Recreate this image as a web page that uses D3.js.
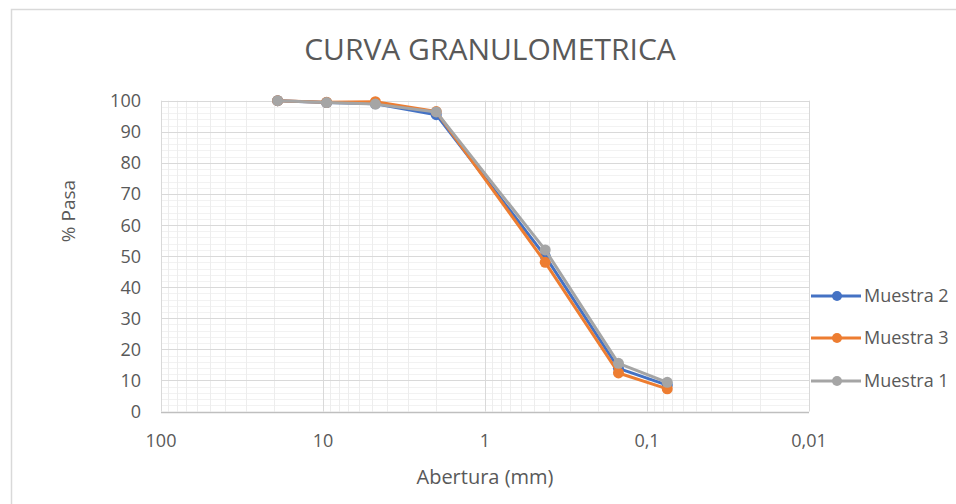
<!DOCTYPE html>
<html>
<head>
<meta charset="utf-8">
<script src="https://cdn.jsdelivr.net/npm/d3@7"></script>
<style>
  html, body { margin: 0; padding: 0; background: #fff; }
  svg { display: block; }
</style>
</head>
<body>
<svg id="chart" width="956" height="504"></svg>
<script>
// Sieve openings (mm) and percent passing for each sample
const aberturas = [19.05, 9.5, 4.75, 2.0, 0.425, 0.15, 0.075];
const muestra2 = [100, 99.4, 99.0, 95.5, 50.0, 13.9, 8.5];
const muestra3 = [100, 99.5, 99.7, 96.5, 48.0, 12.4, 7.3];
const muestra1 = [100, 99.4, 98.9, 96.4, 52.0, 15.5, 9.4];

const seriesNames = ["Muestra 2", "Muestra 3", "Muestra 1"];
const seriesColors = ["#4472C4", "#ED7D31", "#A5A5A5"];
const seriesValues = [muestra2, muestra3, muestra1];

const xTickValues = [100, 10, 1, 0.1, 0.01];
const xTickLabels = ["100", "10", "1", "0,1", "0,01"];
const yTickValues = [0, 10, 20, 30, 40, 50, 60, 70, 80, 90, 100];

const svg = d3.select("#chart");
const font = "'Open Sans', 'Noto Sans', sans-serif";
const textColor = "#595959";

// Outer chart frame
svg.append("rect")
  .attr("x", 11.5).attr("y", 9.5)
  .attr("width", 1000).attr("height", 600)
  .attr("fill", "#fff").attr("stroke", "#D9D9D9").attr("stroke-width", 1.5);

const plotLeft = 161, plotRight = 809, plotTop = 100.7, plotBottom = 411.5;

const x = d3.scaleLog().domain([100, 0.01]).range([plotLeft, plotRight]);
const y = d3.scaleLinear().domain([0, 100]).range([plotBottom, plotTop]);

const grid = svg.append("g");

// Minor horizontal grid (every 2 units)
const yMinor = d3.range(0, 101, 2).filter(v => v % 10 !== 0);
grid.selectAll(".hmin").data(yMinor).enter().append("line")
  .attr("x1", plotLeft).attr("x2", plotRight)
  .attr("y1", d => Math.round(y(d)) + 0.5).attr("y2", d => Math.round(y(d)) + 0.5)
  .attr("stroke", "#F2F2F2").attr("stroke-width", 1);

// Minor vertical grid (2..9 within each decade)
const xMinor = [];
[10, 1, 0.1, 0.01].forEach(base => {
  for (let k = 2; k <= 9; k++) xMinor.push(base * k);
});
grid.selectAll(".vmin").data(xMinor).enter().append("line")
  .attr("y1", plotTop).attr("y2", plotBottom)
  .attr("x1", d => Math.round(x(d)) + 0.5).attr("x2", d => Math.round(x(d)) + 0.5)
  .attr("stroke", "#EDEDED").attr("stroke-width", 1);

// Major horizontal grid
grid.selectAll(".hmaj").data(yTickValues.filter(v => v > 0)).enter().append("line")
  .attr("x1", plotLeft).attr("x2", plotRight)
  .attr("y1", d => Math.round(y(d)) + 0.5).attr("y2", d => Math.round(y(d)) + 0.5)
  .attr("stroke", "#D9D9D9").attr("stroke-width", 1);

// Major vertical grid
grid.selectAll(".vmaj").data(xTickValues).enter().append("line")
  .attr("y1", plotTop).attr("y2", plotBottom)
  .attr("x1", d => Math.round(x(d)) + 0.5).attr("x2", d => Math.round(x(d)) + 0.5)
  .attr("stroke", "#D9D9D9").attr("stroke-width", 1);

// Horizontal axis line
svg.append("line")
  .attr("x1", plotLeft).attr("x2", plotRight)
  .attr("y1", Math.round(plotBottom) + 0.5).attr("y2", Math.round(plotBottom) + 0.5)
  .attr("stroke", "#BFBFBF").attr("stroke-width", 1.5);

// Y tick labels
svg.append("g").selectAll("text").data(yTickValues).enter().append("text")
  .attr("x", 141).attr("y", d => y(d))
  .attr("dy", "0.36em")
  .attr("text-anchor", "end")
  .attr("font-family", font).attr("font-size", 18)
  .attr("fill", textColor)
  .text(d => d);

// X tick labels
svg.append("g").selectAll("text").data(xTickValues).enter().append("text")
  .attr("x", d => x(d)).attr("y", 447)
  .attr("text-anchor", "middle")
  .attr("font-family", font).attr("font-size", 18)
  .attr("fill", textColor)
  .text((d, i) => xTickLabels[i]);

// Title
svg.append("text")
  .attr("x", 490).attr("y", 60)
  .attr("text-anchor", "middle")
  .attr("font-family", font).attr("font-size", 30)
  .attr("fill", textColor)
  .text("CURVA GRANULOMETRICA");

// Axis titles
svg.append("text")
  .attr("transform", "translate(75,211) rotate(-90)")
  .attr("text-anchor", "middle")
  .attr("font-family", font).attr("font-size", 19)
  .attr("fill", textColor)
  .text("% Pasa");

svg.append("text")
  .attr("x", 485).attr("y", 484)
  .attr("text-anchor", "middle")
  .attr("font-family", font).attr("font-size", 20)
  .attr("fill", textColor)
  .text("Abertura (mm)");

// Data series
const line = d3.line().x(d => x(d[0])).y(d => y(d[1]));
seriesValues.forEach((vals, i) => {
  const pts = aberturas.map((a, j) => [a, vals[j]]);
  const g = svg.append("g");
  g.append("path")
    .datum(pts)
    .attr("d", line)
    .attr("fill", "none")
    .attr("stroke", seriesColors[i])
    .attr("stroke-width", 3)
    .attr("stroke-linejoin", "round");
  g.selectAll("circle").data(pts).enter().append("circle")
    .attr("cx", d => x(d[0])).attr("cy", d => y(d[1]))
    .attr("r", 5.5)
    .attr("fill", seriesColors[i]);
});

// Legend
const legendY = [296, 338, 381];
const legend = svg.append("g");
seriesNames.forEach((name, i) => {
  const ly = legendY[i];
  legend.append("line")
    .attr("x1", 811).attr("x2", 861)
    .attr("y1", ly).attr("y2", ly)
    .attr("stroke", seriesColors[i]).attr("stroke-width", 3);
  legend.append("circle")
    .attr("cx", 837).attr("cy", ly).attr("r", 5)
    .attr("fill", seriesColors[i]);
  legend.append("text")
    .attr("x", 864).attr("y", ly)
    .attr("dy", "0.36em")
    .attr("font-family", font).attr("font-size", 18)
    .attr("fill", textColor)
    .text(name);
});
</script>
</body>
</html>
